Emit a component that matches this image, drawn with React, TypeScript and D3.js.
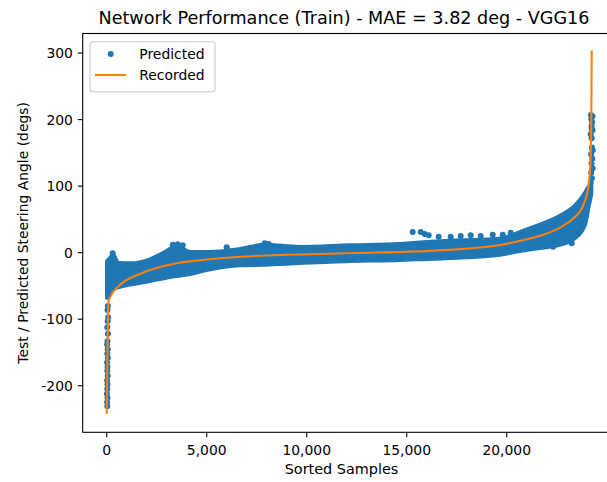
import React from 'react';
import * as d3 from 'd3';

const W = 607;
const H = 482;
const frame = { left: 82.7, right: 616, top: 33.5, bottom: 432.3 };

// Recorded steering angles, sorted (sample index -> degrees)
const recordedIdx = [0, 20, 40, 60, 80, 165, 580, 1750, 3500, 5165, 5665, 8665, 10165, 12500, 15165, 17500, 19665, 21000, 21665, 22165, 22800, 23330, 23830, 24080, 24180, 24230, 24250];
const recordedDeg = [-242, -200, -150, -110, -76, -67, -51, -31, -16, -10, -8.5, -3.5, -2.5, -0.5, 1.5, 5, 11.5, 20, 25.5, 30.5, 40, 51.5, 71.5, 99, 130, 200, 304];

// Dense predicted cloud: upper / lower envelope per sample index
const bandIdx = [15, 165, 315, 565, 1165, 2165, 2915, 3515, 4165, 5165, 6665, 7915, 9665, 12165, 14665, 15500, 17165, 19665, 20665, 21665, 22665, 23415, 23915, 24115, 24230];
const bandUpper = [-13, -8, -3, -15, -16, -10, 1, 10, 1, 1, 5.5, 12, 8.5, 11, 13, 15, 18, 21, 31, 42, 55.5, 70.5, 90, 100, 102];
const bandLower = [-68, -61, -55, -52, -48, -42.5, -38, -35, -32, -25, -19, -18, -15.5, -12.5, -11, -10, -8, -3, 2.5, 7, 12, 22, 42, 72, 88];

// Predicted samples lying off the dense cloud
const looseIdx = [60, 40, 70, 50, 30, 60, 40, 20, 50, 30, 60, 20, 40, 30, 50, 20, 40, 30, 10, 40, 20, 30,
  300, 3300, 3550, 3800, 6000, 7900, 8100, 15300, 15700, 15900, 16100, 16600, 17200, 17700, 18200, 18700, 19300, 19800, 20200,
  22320, 23250,
  24200, 24260, 24220, 24300, 24240, 24280, 24220, 24300, 24250, 24200, 24290, 24240, 24270, 24230, 24290, 24210, 24260, 24250];
const looseDeg = [-80, -86, -97, -103, -112, -122, -133, -138, -145, -152, -158, -165, -172, -178, -185, -192, -198, -205, -212, -218, -225, -231,
  -1, 12, 12.5, 11, 8, 14, 13, 31, 31, 28, 26, 24, 24, 25, 26, 25, 27, 27, 30,
  9, 14,
  105, 112, 120, 127, 134, 141, 148, 154, 172, 178, 184, 190, 196, 201, 205, 207, 158, 186];

const xTicks = [0, 5000, 10000, 15000, 20000];
const yTicks = [-200, -100, 0, 100, 200, 300];

const BLUE = '#1f77b4';
const ORANGE = '#ff7f0e';
const FONT = 'DejaVu Sans, sans-serif';

export default function App() {
  const x = d3.scaleLinear().domain([-1200, 25465]).range([frame.left, frame.right]);
  const y = d3.scaleLinear().domain([-270, 329.4]).range([frame.bottom, frame.top]);

  const band = d3.area<number>()
    .x((i) => x(bandIdx[i]))
    .y0((i) => y(bandLower[i]))
    .y1((i) => y(bandUpper[i]))
    .curve(d3.curveMonotoneX)(d3.range(bandIdx.length)) as string;

  const line = d3.line<number>()
    .x((i) => x(recordedIdx[i]))
    .y((i) => y(recordedDeg[i]))
    .curve(d3.curveMonotoneX)(d3.range(recordedIdx.length)) as string;

  const fmt = d3.format(',');
  const tickLen = 4.9;

  return (
    <svg width={W} height={H} style={{ position: 'absolute', left: 0, top: 0, background: '#fff' }} fontFamily={FONT}>
      <defs>
        <clipPath id="plotArea">
          <rect x={frame.left} y={frame.top} width={frame.right - frame.left} height={frame.bottom - frame.top} />
        </clipPath>
      </defs>
      <rect width={W} height={H} fill="#fff" />
      <g clipPath="url(#plotArea)">
        <path d={band} fill={BLUE} stroke={BLUE} strokeWidth={4} strokeLinejoin="round" />
        {looseIdx.map((v, i) => (
          <circle key={i} cx={x(v)} cy={y(looseDeg[i])} r={3} fill={BLUE} />
        ))}
        <path d={line} fill="none" stroke={ORANGE} strokeWidth={2.1} />
      </g>
      {/* spines */}
      <rect x={frame.left} y={frame.top} width={frame.right - frame.left} height={frame.bottom - frame.top} fill="none" stroke="#000" strokeWidth={1.1} />
      {/* x axis */}
      {xTicks.map((t) => (
        <g key={t}>
          <line x1={x(t)} x2={x(t)} y1={frame.bottom} y2={frame.bottom + tickLen} stroke="#000" strokeWidth={1.1} />
          <text x={x(t)} y={455} fontSize={13.9} textAnchor="middle" fill="#000">{fmt(t)}</text>
        </g>
      ))}
      {/* y axis */}
      {yTicks.map((t) => (
        <g key={t}>
          <line x1={frame.left - tickLen} x2={frame.left} y1={y(t)} y2={y(t)} stroke="#000" strokeWidth={1.1} />
          <text x={frame.left - tickLen - 4.9} y={y(t)} dy="0.36em" fontSize={13.9} textAnchor="end" fill="#000">{String(t)}</text>
        </g>
      ))}
      <text x={341.5} y={474} fontSize={14.4} textAnchor="middle" fill="#000">Sorted Samples</text>
      <text transform={`translate(27.7,${(frame.top + frame.bottom) / 2}) rotate(-90)`} fontSize={13.9} textAnchor="middle" fill="#000">
        Test / Predicted Steering Angle (degs)
      </text>
      <text x={344} y={24} fontSize={17.6} textAnchor="middle" fill="#000">
        Network Performance (Train) - MAE = 3.82 deg - VGG16
      </text>
      {/* legend */}
      <g>
        <rect x={90} y={41.7} width={125} height={50} rx={3} fill="#fff" fillOpacity={0.8} stroke="#cccccc" strokeWidth={1.1} />
        <circle cx={110.7} cy={54} r={3} fill={BLUE} />
        <text x={139.3} y={58.5} fontSize={13.9} fill="#000">Predicted</text>
        <line x1={95} x2={126} y1={75} y2={75} stroke={ORANGE} strokeWidth={2.1} />
        <text x={139.3} y={80} fontSize={13.9} fill="#000">Recorded</text>
      </g>
    </svg>
  );
}
